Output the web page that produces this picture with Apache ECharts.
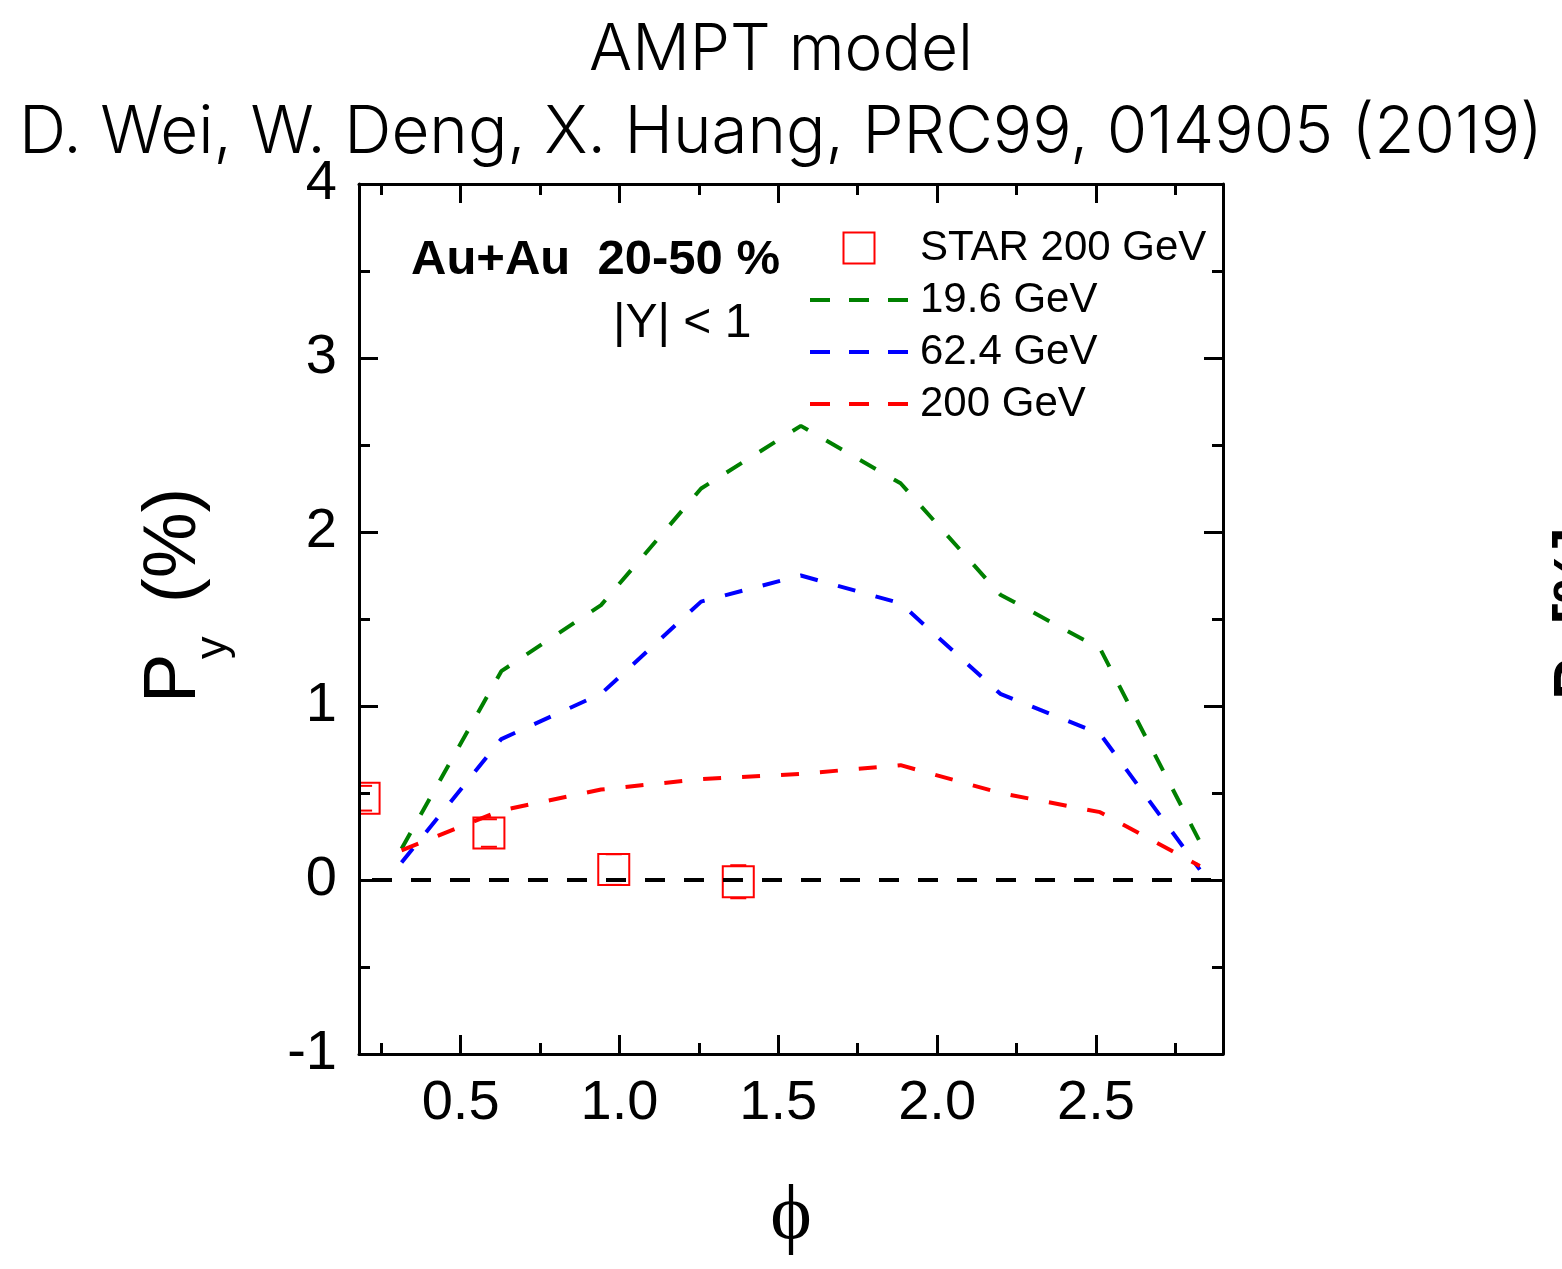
<!DOCTYPE html>
<html><head><meta charset="utf-8">
<script src="https://cdn.jsdelivr.net/npm/echarts@6/dist/echarts.min.js"></script>
<style>html,body{margin:0;padding:0;background:#fff}#c{width:1562px;height:1269px}</style>
</head><body><div id="c"></div>
<script>
// ---- data ----
const phiModel = [0.314, 0.628, 0.942, 1.257, 1.571, 1.885, 2.199, 2.513, 2.827];
const py196 = [0.18, 1.20, 1.58, 2.25, 2.61, 2.28, 1.64, 1.33, 0.22];
const py624 = [0.10, 0.81, 1.07, 1.60, 1.75, 1.59, 1.07, 0.84, 0.06];
const py200 = [0.17, 0.40, 0.52, 0.58, 0.61, 0.66, 0.50, 0.39, 0.08];
const phiStar = [0.196, 0.589, 0.982, 1.374];
const pyStar = [0.47, 0.27, 0.06, -0.01];
const errStar = [0.071, 0.079, 0.088, 0.095];
const xMajorTicks = [0.5, 1.0, 1.5, 2.0, 2.5];
const xMinorTicks = [0.25, 0.75, 1.25, 1.75, 2.25, 2.75];
const seriesNames = ['STAR 200 GeV', '19.6 GeV', '62.4 GeV', '200 GeV'];

const SANS = 'Liberation Sans, Arial, sans-serif';
const TITLE_FONT = 'Inter, Roboto, sans-serif';
const toPairs = (xs, ys) => xs.map((x, i) => [x, ys[i]]);
const X_MIN = 0.18, X_MAX = 2.9;
const dash = [18, 21];
const DASH_ICON = 'path://M0,0h20v4h-20zM39,0h20v4h-20zM78,0h20v4h-20z';
const ROT = Math.PI / 2;

const chart = echarts.init(document.getElementById('c'), null, {renderer: 'canvas'});

function xAxisDef(pos, ticks, len, showLine, withLabels) {
  const a = {
    type: 'value', min: X_MIN, max: X_MAX, position: pos, gridIndex: 0, z: 10,
    axisLine: {show: showLine, onZero: false, lineStyle: {color: '#000', width: 3}},
    axisTick: {show: true, inside: true, length: len, customValues: ticks, lineStyle: {color: '#000', width: 3}},
    axisLabel: {show: false},
    splitLine: {show: false}
  };
  if (withLabels) {
    a.axisLabel = {show: true, customValues: ticks, formatter: v => v.toFixed(1), fontSize: 56,
      fontFamily: SANS, color: '#000', margin: 22};
    a.name = '\u03D5';
    a.nameLocation = 'middle';
    a.nameGap = 124;
    a.nameTextStyle = {fontFamily: 'Liberation Serif, Times New Roman, serif', fontSize: 79, color: '#000'};
  }
  return a;
}
function yAxisDef(pos, withLabels) {
  return {
    type: 'value', min: -1, max: 4, interval: 1, position: pos, z: 10,
    axisLine: {show: true, onZero: false, lineStyle: {color: '#000', width: 3}},
    axisTick: {show: true, inside: true, length: 19, lineStyle: {color: '#000', width: 3}},
    minorTick: {show: true, splitNumber: 2, length: 11, lineStyle: {color: '#000', width: 3}},
    axisLabel: {show: withLabels, fontSize: 56, fontFamily: SANS, color: '#000', margin: 22},
    splitLine: {show: false}
  };
}

function renderStar(params, api) {
  const x = api.value(0), y = api.value(1), e = api.value(2);
  const c = api.coord([x, y]);
  const cs = params.coordSys;
  const half = 15.5;
  const area = {x: cs.x, y: cs.y, width: cs.width, height: cs.height};
  const box = echarts.graphic.clipRectByRect({x: c[0] - half, y: c[1] - half, width: 2 * half, height: 2 * half}, area);
  const top = api.coord([x, y + e])[1];
  const bot = api.coord([x, y - e])[1];
  const capL = Math.max(c[0] - 8, cs.x), capR = c[0] + 8;
  const st = {stroke: '#ff0000', lineWidth: 2};
  const children = [];
  if (box) children.push({type: 'rect', shape: box, style: {fill: 'none', stroke: '#ff0000', lineWidth: 2}});
  children.push({type: 'line', shape: {x1: capL, y1: top, x2: capR, y2: top}, style: st});
  children.push({type: 'line', shape: {x1: capL, y1: bot, x2: capR, y2: bot}, style: st});
  if (top < c[1] - half) children.push({type: 'line', shape: {x1: c[0], y1: top, x2: c[0], y2: c[1] - half}, style: st});
  if (bot > c[1] + half) children.push({type: 'line', shape: {x1: c[0], y1: c[1] + half, x2: c[0], y2: bot}, style: st});
  return {type: 'group', children};
}

function modelLine(name, ys, color) {
  return {
    name, type: 'line', xAxisIndex: 0, yAxisIndex: 0, data: toPairs(phiModel, ys),
    symbol: 'none', showSymbol: false, smooth: false, z: 3,
    lineStyle: {color, width: 4, type: dash, cap: 'butt'},
    itemStyle: {color}
  };
}

function vText(x, y, text, font) {
  return {type: 'text', x, y, rotation: ROT, z: 20,
    style: {text, font, fill: '#000', textAlign: 'left', textVerticalAlign: 'middle'}};
}

const option = {
  backgroundColor: '#fff',
  animation: false,
  title: {
    text: 'AMPT model',
    subtext: 'D. Wei, W. Deng, X. Huang, PRC99, 014905 (2019)',
    left: 'center', top: 14, itemGap: 17,
    textStyle: {fontFamily: TITLE_FONT, fontWeight: 300, fontSize: 64, color: '#000'},
    subtextStyle: {fontFamily: TITLE_FONT, fontWeight: 300, fontSize: 65.5, color: '#000'}
  },
  grid: {left: 359, top: 184, width: 864, height: 870, containLabel: false},
  legend: {
    orient: 'vertical', left: 810, top: 227, padding: 0, itemWidth: 98, itemHeight: 31, itemGap: 10,
    symbolKeepAspect: true,
    textStyle: {fontSize: 42, fontFamily: SANS, color: '#000', lineHeight: 42, padding: [0, 0, 0, 7]},
    data: [
      {name: seriesNames[0], icon: 'path://M0,0L10,0L10,10L0,10Z',
        itemStyle: {color: 'rgba(0,0,0,0)', borderColor: '#ff0000', borderWidth: 2}},
      {name: seriesNames[1], icon: DASH_ICON, itemStyle: {color: '#008000', borderWidth: 0}},
      {name: seriesNames[2], icon: DASH_ICON, itemStyle: {color: '#0000ff', borderWidth: 0}},
      {name: seriesNames[3], icon: DASH_ICON, itemStyle: {color: '#ff0000', borderWidth: 0}}
    ]
  },
  xAxis: [
    xAxisDef('bottom', xMajorTicks, 19, true, true),
    xAxisDef('bottom', xMinorTicks, 11, false, false),
    xAxisDef('top', xMajorTicks, 19, true, false),
    xAxisDef('top', xMinorTicks, 11, false, false)
  ],
  yAxis: [yAxisDef('left', true), yAxisDef('right', false)],
  graphic: [
    {type: 'text', left: 411, top: 236, z: 20,
      style: {text: 'Au+Au  20-50 %', font: 'bold 49px ' + SANS, fill: '#000'}},
    {type: 'text', left: 613, top: 300, z: 20,
      style: {text: '|Y| < 1', font: '48px ' + SANS, fill: '#000'}},
    // y-axis title  P_y (%)
    vText(175, 703, 'P', '74px ' + SANS),
    vText(214, 659, 'y', '45px ' + SANS),
    vText(175, 603, '(%)', '74px ' + SANS),
    // neighbouring panel's cut-off axis title at the right edge
    {type: 'text', x: 1548, y: 700, rotation: ROT, z: 20,
      style: {text: 'P  [%]', font: 'bold 62px ' + SANS, fill: '#000', textVerticalAlign: 'top'}}
  ],
  series: [
    {
      name: seriesNames[0], type: 'custom', xAxisIndex: 0, yAxisIndex: 0, z: 4,
      itemStyle: {color: '#ff0000'},
      data: phiStar.map((x, i) => [x, pyStar[i], errStar[i]]),
      renderItem: renderStar,
      encode: {x: 0, y: 1}
    },
    modelLine(seriesNames[1], py196, '#008000'),
    modelLine(seriesNames[2], py624, '#0000ff'),
    modelLine(seriesNames[3], py200, '#ff0000'),
    {
      name: 'zero', type: 'line', xAxisIndex: 0, yAxisIndex: 0, data: [], z: 2,
      markLine: {
        silent: true, symbol: 'none', label: {show: false},
        lineStyle: {color: '#000', width: 4, type: [20, 19], dashOffset: 26, cap: 'butt'},
        data: [{yAxis: 0}]
      }
    }
  ]
};
chart.setOption(option);
</script>
</body></html>
